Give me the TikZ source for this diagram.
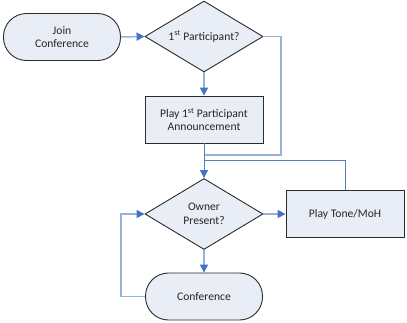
\documentclass[tikz,border=0pt]{standalone}
\usepackage{fontspec}
\setmainfont{Carlito}
\usetikzlibrary{shapes.geometric,arrows.meta}
\definecolor{boxfill}{HTML}{E9EDF6}
\definecolor{lineblue}{HTML}{95B3D7}
\definecolor{darkline}{HTML}{4F81BD}
\definecolor{tipblue}{HTML}{4472C4}
\definecolor{edge}{HTML}{2B2B2B}
\definecolor{txt}{HTML}{262626}
\tikzset{
  base/.style={draw=edge, line width=0.9pt, fill=boxfill, text=txt, font=\fontsize{11.6}{13.5}\selectfont, align=center, inner sep=0pt},
  terminal/.style={base, rectangle, rounded corners=23pt, minimum width=117pt, minimum height=47pt},
  procbox/.style={base, rectangle, minimum width=118pt, minimum height=47pt},
  decision/.style={base, diamond, aspect=1.63, minimum width=118pt, minimum height=71pt},
  flow/.style={draw=lineblue, line width=1.5pt},
  flowdark/.style={draw=darkline, line width=1pt},
  tip/.style={-{Triangle[length=8pt,width=8pt,color=tipblue]}}
}
\begin{document}
\begin{tikzpicture}[x=1pt,y=-1pt]
\useasboundingbox (0,0) rectangle (407,322);
\node[terminal] (join) at (62,37) {Join\\Conference};
\node[decision] (d1) at (204,36.5) {1\textsuperscript{st} Participant?};
\node[procbox] (r1) at (204,119.5) {Play 1\textsuperscript{st} Participant\\Announcement};
\node[decision] (d2) at (204,214) {Owner\\Present?};
\node[procbox] (r2) at (345,214) {Play Tone/MoH};
\node[terminal] (conf) at (204,296.5) {Conference};
\coordinate (c1) at (281,155);
\coordinate (c2) at (204,160);
\coordinate (c3) at (121,296.5);
\draw[flow,tip] (join.east) -- (d1.west);
\draw[flow,tip] (d1.south) -- (r1.north);
\draw[flow] (d1.east) -| (c1) -- (r1.south |- c1);
\draw[flowdark,tip] (r1.south) -- (d2.north);
\draw[flowdark] (r2.north) |- (c2);
\draw[flow,tip] (d2.east) -- (r2.west);
\draw[flow,tip] (d2.south) -- (conf.north);
\draw[flow,tip] (conf.west) -- (c3) |- (d2.west);
\end{tikzpicture}
\end{document}
